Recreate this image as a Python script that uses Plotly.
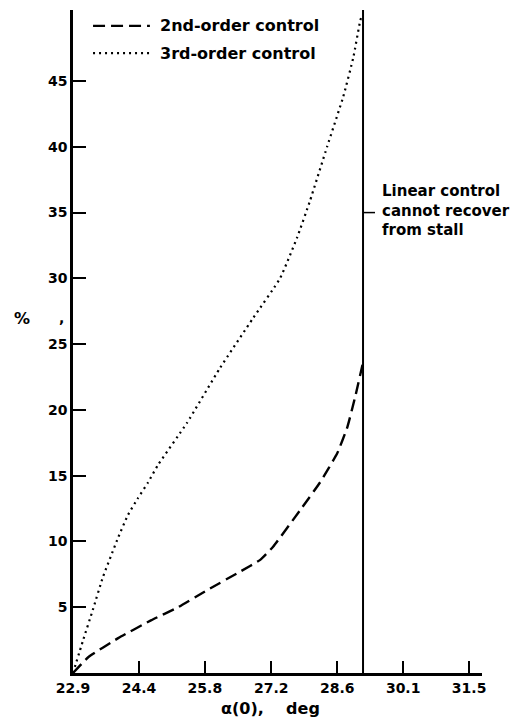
import plotly.graph_objects as go

# ---- data ----
x_tickvals = [22.92, 24.35, 25.78, 27.22, 28.65, 30.08, 31.51]
x_ticktext = ["22.9", "24.4", "25.8", "27.2", "28.6", "30.1", "31.5"]
y_tickvals = [5, 10, 15, 20, 25, 30, 35, 40, 45]

alpha_2nd = [22.92, 23.25, 23.90, 24.61, 25.20, 25.83, 26.54, 26.98, 27.26, 27.85, 28.28, 28.65, 28.87, 29.04, 29.19, 29.21]
pct_2nd = [0, 1.2, 2.65, 4.0, 5.0, 6.3, 7.7, 8.6, 9.6, 12.4, 14.5, 16.7, 18.7, 21.0, 23.3, 23.6]

alpha_3rd = [22.92, 23.14, 23.35, 23.57, 23.90, 24.11, 24.33, 24.55, 24.76, 25.39, 26.11, 26.83, 27.41, 27.78, 28.06, 28.43, 28.78, 29.00, 29.15, 29.19]
pct_3rd = [0, 2.5, 4.8, 7.3, 10.3, 12.0, 13.3, 14.5, 15.8, 19.0, 23.2, 27.0, 30.0, 33.1, 35.9, 40.0, 43.8, 46.8, 49.6, 50.0]

series_names = ["2nd-order control", "3rd-order control"]
stall_alpha = 29.21
stall_label = "Linear control<br>cannot recover<br>from stall"
stall_label_y = 35

x_range = [22.92, 31.79]
y_range = [0, 50.4]

FONT = "DejaVu Sans"
DASH = "12px,6px"
DOT = "2px,4px"

fig = go.Figure()
fig.add_trace(go.Scatter(x=alpha_2nd, y=pct_2nd, mode="lines",
                         line=dict(color="black", width=2.4, dash=DASH, shape="spline", smoothing=0.4),
                         name=series_names[0], showlegend=False, cliponaxis=False))
fig.add_trace(go.Scatter(x=alpha_3rd, y=pct_3rd, mode="lines",
                         line=dict(color="black", width=2.2, dash=DOT, shape="spline", smoothing=0.4),
                         name=series_names[1], showlegend=False, cliponaxis=False))

# stall boundary
fig.add_shape(type="line", xref="x", yref="paper", x0=stall_alpha, x1=stall_alpha, y0=0, y1=1,
              line=dict(color="black", width=2))
fig.add_shape(type="line", xref="x", yref="y", x0=stall_alpha, x1=stall_alpha + 0.26,
              y0=stall_label_y, y1=stall_label_y, line=dict(color="black", width=1.5))
fig.add_annotation(x=0.751, y=0.697, xref="paper", yref="paper", text=stall_label,
                   showarrow=False, xanchor="left", yanchor="middle", align="left",
                   font=dict(family=FONT, size=15, color="black", weight="bold"))

# manual legend
leg_y = [0.976, 0.935]
leg_dash = [DASH, DOT]
leg_w = [2.4, 2.2]
for i in range(2):
    fig.add_shape(type="line", xref="paper", yref="paper", x0=0.049, x1=0.188,
                  y0=leg_y[i], y1=leg_y[i], line=dict(color="black", width=leg_w[i], dash=leg_dash[i]))
    fig.add_annotation(x=0.208, y=leg_y[i], xref="paper", yref="paper", text=series_names[i],
                       showarrow=False, xanchor="left", yanchor="middle",
                       font=dict(family=FONT, size=16, color="black", weight="bold"))

# axis titles
fig.add_annotation(x=-0.15, y=0.535, xref="paper", yref="paper", text="%", showarrow=False,
                   font=dict(family=FONT, size=16, color="black", weight="bold"))
fig.add_annotation(x=-0.04, y=0.535, xref="paper", yref="paper", text=",", showarrow=False,
                   font=dict(family=FONT, size=14, color="black", weight="bold"))
fig.add_annotation(x=0.482, y=-0.053, xref="paper", yref="paper", text="α(0),&nbsp;&nbsp;&nbsp; deg",
                   showarrow=False, yanchor="middle",
                   font=dict(family=FONT, size=16, color="black", weight="bold"))

fig.update_xaxes(range=x_range, tickvals=x_tickvals, ticktext=x_ticktext,
                 ticks="inside", ticklen=12, tickwidth=2, tickcolor="black",
                 showline=True, linecolor="black", linewidth=2.5, showgrid=False, zeroline=False,
                 tickfont=dict(family=FONT, size=14, color="black", weight="bold"))
fig.update_yaxes(range=y_range, tickvals=y_tickvals,
                 ticks="inside", ticklen=13, tickwidth=2, tickcolor="black",
                 showline=True, linecolor="black", linewidth=2.5, showgrid=False, zeroline=False,
                 tickfont=dict(family=FONT, size=14, color="black", weight="bold"))

# page body has an 8px default margin, so the figure is sized/offset to compensate
fig.update_layout(width=517, height=709, margin=dict(l=65, r=43, t=2, b=44),
                  plot_bgcolor="white", paper_bgcolor="white", showlegend=False)

fig.write_html("out.html")
